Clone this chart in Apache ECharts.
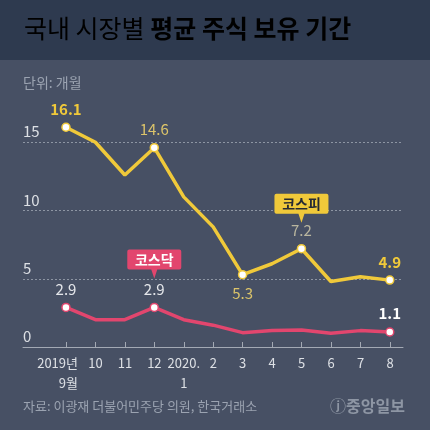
<!DOCTYPE html>
<html>
<head>
<meta charset="utf-8">
<script src="https://cdn.jsdelivr.net/npm/echarts@6/dist/echarts.min.js"></script>
<style>
  html, body { margin: 0; padding: 0; background: #475064; }
  #chart { width: 430px; height: 430px; }
</style>
</head>
<body>
<div id="chart"></div>
<script>
// 월별 라벨
const months = ['2019년\n9월', '10', '11', '12', '2020.\n1', '2', '3', '4', '5', '6', '7', '8'];
// 평균 보유 기간 (개월)
const kospi = [16.1, 15.0, 12.6, 14.6, 11.0, 8.8, 5.3, 6.1, 7.2, 4.8, 5.15, 4.9];
const kosdaq = [2.9, 2.0, 2.0, 2.9, 2.0, 1.6, 1.05, 1.2, 1.25, 1.0, 1.2, 1.1];
const yTicks = [0, 5, 10, 15];

// 라벨 표시할 지점
const kospiLabels = {
  0: { position: 'top', color: '#f0c93a', fontWeight: 'bold' },
  3: { position: 'top', color: '#dcc46a', fontWeight: 'normal' },
  6: { position: 'bottom', color: '#dcc46a', fontWeight: 'normal' },
  8: { position: 'top', color: '#b9b69f', fontWeight: 'normal' },
  11: { position: 'top', color: '#f0c93a', fontWeight: 'bold' }
};
const kosdaqLabels = {
  0: { position: 'top', color: '#e4e6ea', fontWeight: 'normal' },
  3: { position: 'top', color: '#e4e6ea', fontWeight: 'normal' },
  11: { position: 'top', color: '#ffffff', fontWeight: 'bold' }
};

const FONT = '"Noto Sans CJK KR", "Noto Sans", sans-serif';
const calloutPath = 'path://M2,0 H52 Q54,0 54,2 V18 Q54,20 52,20 H30 L27,29 L24,20 H2 Q0,20 0,18 V2 Q0,0 2,0 Z';

function buildData(values, labels, color) {
  return values.map((v, i) => {
    const lb = labels[i];
    if (!lb) return { value: [i, v], symbol: 'none' };
    return {
      value: [i, v],
      symbol: 'circle',
      symbolSize: 8,
      itemStyle: { color: '#ffffff', borderColor: color, borderWidth: 1.5 },
      label: {
        show: true,
        position: lb.position,
        distance: 6,
        color: lb.color,
        fontWeight: lb.fontWeight,
        fontSize: 15,
        fontFamily: FONT
      }
    };
  });
}

// 첫 라벨은 오른쪽 정렬로 약간 왼쪽에 놓임
function monthLabel(v, i) {
  if (i !== 0) return v;
  const parts = v.split('\n');
  return '{first|' + parts[0] + '}\n{first|' + parts[1] + '}';
}

const chart = echarts.init(document.getElementById('chart'));

chart.setOption({
  backgroundColor: '#475064',
  animation: false,
  graphic: [
    { type: 'rect', left: 0, top: 0, shape: { width: 430, height: 60 }, style: { fill: '#2e3a4f' }, z: -1 },
    {
      type: 'text', left: 24, top: 16,
      style: {
        text: '{a|국내 시장별 }{b|평균 주식 보유 기간}',
        rich: {
          a: { fontSize: 25, color: '#ffffff', fontFamily: FONT, fontWeight: 'normal' },
          b: { fontSize: 25, color: '#ffffff', fontFamily: FONT, fontWeight: 'bold' }
        }
      }
    },
    { type: 'text', left: 23, top: 76, style: { text: '단위: 개월', fontSize: 14, fill: '#9ba3b1', fontFamily: FONT } },
    { type: 'text', left: 23, top: 400, style: { text: '자료: 이광재 더불어민주당 의원, 한국거래소', fontSize: 13, fill: '#9ba3b1', fontFamily: FONT } },
    { type: 'text', right: 25, top: 398, style: { text: 'ⓙ중앙일보', fontSize: 16, fontWeight: 'bold', fill: '#8e96a4', fontFamily: FONT } }
  ],
  grid: [
    { left: 23, right: 27, top: 74, bottom: 83 },
    { left: 66, right: 40, top: 74, bottom: 83 }
  ],
  xAxis: [
    {
      type: 'value', gridIndex: 0, min: -1.46, max: 11.45,
      axisLine: { show: true, lineStyle: { color: '#a3a9b4', width: 1 } },
      axisTick: { show: false }, axisLabel: { show: false }, splitLine: { show: false }
    },
    {
      type: 'category', gridIndex: 1, data: months, boundaryGap: false,
      axisLine: { show: false },
      axisTick: { show: true, inside: true, length: 5, alignWithLabel: true, lineStyle: { color: '#a3a9b4' } },
      axisLabel: {
        color: '#dde0e5', fontSize: 13, fontFamily: FONT, lineHeight: 20, margin: 6, interval: 0,
        formatter: monthLabel,
        rich: {
          first: {
            color: '#dde0e5', fontSize: 13, fontFamily: FONT, lineHeight: 20,
            width: 46, align: 'right', padding: [0, 22, 0, 0]
          }
        }
      }
    }
  ],
  yAxis: [
    {
      type: 'value', gridIndex: 0, min: 0, max: 20, interval: 5,
      axisLine: { show: false }, axisTick: { show: false },
      axisLabel: {
        inside: true, margin: 0, verticalAlign: 'bottom', padding: [0, 0, 3, 0],
        color: '#dde0e5', fontSize: 15, fontFamily: FONT,
        formatter: v => (yTicks.indexOf(v) >= 0 ? String(v) : '')
      },
      splitLine: {
        show: true,
        lineStyle: {
          type: [2, 2],
          color: ['rgba(0,0,0,0)', '#8d95a3', '#8d95a3', '#8d95a3', 'rgba(0,0,0,0)']
        }
      }
    },
    { type: 'value', gridIndex: 1, min: 0, max: 20, show: false }
  ],
  series: [
    {
      name: '코스피', type: 'line', xAxisIndex: 0, yAxisIndex: 0,
      data: buildData(kospi, kospiLabels, '#f0c93a'),
      lineStyle: { color: '#f0c93a', width: 3.5 },
      itemStyle: { color: '#f0c93a' },
      z: 3,
      markPoint: {
        symbol: calloutPath, symbolSize: [54, 29], symbolOffset: [0, -40.5],
        itemStyle: { color: '#f0c93a' },
        label: { show: true, formatter: '코스피', color: '#262a33', fontSize: 14, fontWeight: 'bold', fontFamily: FONT, offset: [0, -4.5] },
        data: [{ coord: [8, kospi[8]] }]
      }
    },
    {
      name: '코스닥', type: 'line', xAxisIndex: 0, yAxisIndex: 0,
      data: buildData(kosdaq, kosdaqLabels, '#e2466e'),
      lineStyle: { color: '#e2466e', width: 3.5 },
      itemStyle: { color: '#e2466e' },
      z: 3,
      markPoint: {
        symbol: calloutPath, symbolSize: [54, 29], symbolOffset: [0, -43.5],
        itemStyle: { color: '#e2466e' },
        label: { show: true, formatter: '코스닥', color: '#ffffff', fontSize: 14, fontWeight: 'bold', fontFamily: FONT, offset: [0, -4.5] },
        data: [{ coord: [3, kosdaq[3]] }]
      }
    }
  ]
});
</script>
</body>
</html>
